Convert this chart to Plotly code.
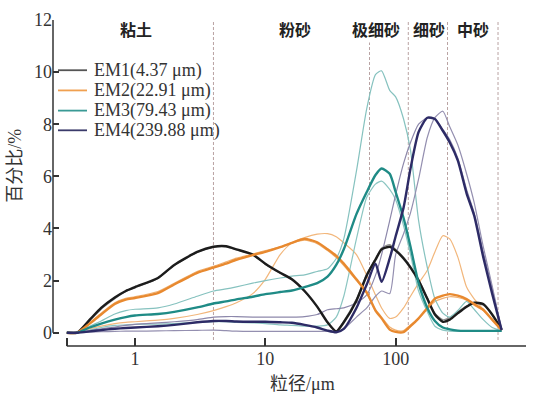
import plotly.graph_objects as go

# ---------------- data ----------------
X_UM = [0.3, 0.36, 0.45, 0.55, 0.7, 0.85, 1, 1.5, 2, 3, 4, 5, 6, 8, 10, 13, 16, 20, 25, 30, 35, 40,
        50, 60, 70, 78, 90, 100, 115, 130, 150, 175, 200, 230, 260, 300, 350, 400, 470, 550, 650]

EM1 = [0, 0, 0.5, 0.95, 1.35, 1.6, 1.75, 2.1, 2.6, 3.1, 3.3, 3.32, 3.2, 3.0, 2.65, 2.3, 2.05, 1.6, 1.0, 0.4, 0.05, 0.4,
       1.23, 2.2, 2.8, 3.2, 3.3, 3.15, 2.85, 2.5, 2.0, 1.3, 0.7, 0.42, 0.5, 0.75, 1.0, 1.15, 1.1, 0.7, 0.12]
EM2 = [0, 0, 0.35, 0.7, 1.1, 1.27, 1.33, 1.52, 1.85, 2.3, 2.5, 2.65, 2.8, 2.98, 3.1, 3.28, 3.45, 3.6, 3.47, 3.2, 2.95, 2.65,
       2.05, 1.55, 0.85, 0.55, 0.12, 0.03, 0.02, 0.25, 0.55, 0.95, 1.3, 1.42, 1.48, 1.42, 1.29, 1.1, 0.88, 0.5, 0.1]
EM3 = [0, 0, 0.2, 0.35, 0.5, 0.6, 0.66, 0.72, 0.8, 0.97, 1.12, 1.2, 1.28, 1.38, 1.48, 1.56, 1.62, 1.75, 1.9, 2.15, 2.6, 3.2,
       4.55, 5.4, 6.05, 6.3, 6.1, 5.4, 4.4, 3.3, 1.9, 0.95, 0.45, 0.2, 0.13, 0.08, 0.07, 0.07, 0.07, 0.07, 0.07]
EM4 = [0, 0, 0.05, 0.1, 0.15, 0.18, 0.2, 0.25, 0.3, 0.4, 0.45, 0.45, 0.43, 0.42, 0.42, 0.4, 0.38, 0.3, 0.2, 0.08, 0.02, 0.15,
       0.95, 1.85, 2.65, 1.95, 2.85, 3.7, 4.8, 6.3, 7.7, 8.25, 8.2, 7.75, 7.3, 6.6, 5.35, 4.5, 2.9, 1.5, 0.1]

# representative samples (thin lines)
S_GRAY = [0, 0, 0.45, 0.9, 1.3, 1.58, 1.72, 2.08, 2.58, 3.08, 3.28, 3.3, 3.18, 2.98, 2.62, 2.28, 2.02, 1.58, 0.98, 0.38, 0.06, 0.45,
          1.3, 2.25, 2.85, 3.25, 3.38, 3.2, 2.9, 2.55, 2.05, 1.35, 0.75, 0.5, 0.58, 0.8, 1.02, 1.12, 1.05, 0.68, 0.12]
S_ORANGE_A = [0, 0, 0.15, 0.25, 0.35, 0.4, 0.42, 0.48, 0.55, 0.7, 0.85, 1.0, 1.15, 1.5, 2.05, 3.0, 3.45, 3.65, 3.78, 3.8, 3.68, 3.45,
              3.0, 2.2, 1.45, 0.95, 0.55, 0.6, 0.95, 1.4, 1.9, 2.4, 3.1, 3.72, 3.6, 2.9, 1.75, 1.3, 0.9, 0.5, 0.1]
S_ORANGE_B = [0, 0, 0.38, 0.75, 1.15, 1.32, 1.38, 1.58, 1.9, 2.35, 2.55, 2.72, 2.86, 3.02, 3.15, 3.3, 3.45, 3.55, 3.42, 3.15, 2.88, 2.58,
              2.0, 1.5, 0.9, 0.6, 0.22, 0.1, 0.08, 0.3, 0.55, 0.9, 1.2, 1.32, 1.38, 1.35, 1.25, 1.05, 0.85, 0.5, 0.1]
S_TEAL_A = [0, 0, 0.25, 0.45, 0.72, 0.85, 0.9, 0.95, 1.1, 1.4, 1.6, 1.68, 1.76, 1.9, 2.0, 2.1, 2.17, 2.22, 2.35, 2.45, 2.85, 3.6,
            6.2, 8.6, 9.9, 10.05, 9.3, 9.05, 8.2, 7.0, 4.3, 2.5, 1.3, 0.75, 0.6, 0.85, 1.2, 0.9, 0.5, 0.2, 0.07]
S_TEAL_B = [0, 0, 0.1, 0.2, 0.28, 0.3, 0.32, 0.33, 0.35, 0.4, 0.42, 0.42, 0.4, 0.38, 0.35, 0.3, 0.28, 0.25, 0.25, 0.3, 0.6, 1.4,
            3.6, 5.2, 5.7, 5.82, 5.5, 5.1, 4.1, 3.0, 1.6, 0.8, 0.25, 0.1, 0.06, 0.05, 0.05, 0.05, 0.05, 0.05, 0.05]
S_PURPLE_A = [0, 0, 0.08, 0.15, 0.22, 0.28, 0.32, 0.38, 0.42, 0.5, 0.6, 0.62, 0.62, 0.6, 0.6, 0.6, 0.6, 0.62, 0.7, 0.88, 0.92, 0.95,
              1.15, 1.45, 2.2, 3.0, 4.3, 5.3, 6.5, 7.3, 8.0, 8.25, 8.2, 7.8, 7.4, 6.7, 5.5, 4.6, 3.1, 1.7, 0.12]
S_PURPLE_B = [0, 0, 0.02, 0.04, 0.05, 0.06, 0.06, 0.07, 0.08, 0.09, 0.1, 0.08, 0.06, 0.05, 0.05, 0.05, 0.05, 0.05, 0.05, 0.05, 0.05, 0.15,
              0.6, 0.95, 1.4, 1.6, 1.5, 3.0, 3.8, 4.6, 5.9, 7.5, 8.25, 8.5, 7.9, 7.2, 6.1, 5.0, 3.3, 1.8, 0.12]

EM_NAMES = ["EM1(4.37 μm)", "EM2(22.91 μm)", "EM3(79.43 μm)", "EM4(239.88 μm)"]
CLASS_LABELS = ["粘土", "粉砂", "极细砂", "细砂", "中砂"]
CLASS_BOUNDS = [4, 63, 125, 250, 610]
X_TICKS = [0.3, 1, 10, 100, 1000]
X_TICK_TEXT = ["", "1", "10", "100", "1 000"]
Y_TICKS = [0, 2, 4, 6, 8, 10, 12]

# ---------------- layout geometry ----------------
W, H = 536, 397
ML, MR, MT, MB = 53, 10, 15, 51
PW, PH = W - ML - MR, H - MT - MB


def pxx(px):
    return (px - ML) / PW


def pxy(py):
    return (H - MB - py) / PH


SERIF = "Liberation Serif"
MIXED = "Liberation Serif, Noto Sans CJK SC"
CJK = "Noto Sans CJK SC"

fig = go.Figure()

thin = [
    (S_GRAY, "#8e8e8e"),
    (S_ORANGE_A, "#f2b77c"),
    (S_ORANGE_B, "#f0b070"),
    (S_TEAL_A, "#86c2bf"),
    (S_TEAL_B, "#8cc6c2"),
    (S_PURPLE_A, "#8d88ab"),
    (S_PURPLE_B, "#948fb0"),
]
for ys, c in thin:
    fig.add_trace(go.Scatter(x=X_UM, y=ys, mode="lines", showlegend=False, hoverinfo="skip",
                             line=dict(color=c, width=1.2, shape="spline", smoothing=0.6)))

thick = [(EM1, "#1c1c1c"), (EM2, "#e8892f"), (EM3, "#1f8b86"), (EM4, "#2d2b66")]
for (ys, c), nm in zip(thick, EM_NAMES):
    fig.add_trace(go.Scatter(x=X_UM, y=ys, mode="lines", name=nm, showlegend=False,
                             line=dict(color=c, width=2.4, shape="spline", smoothing=0.6)))

shapes = []
for b in CLASS_BOUNDS:
    shapes.append(dict(type="line", xref="x", yref="y", x0=b, x1=b, y0=-0.28, y1=12,
                       line=dict(color="#b9a3a3", width=1, dash="3px,2px"), layer="below"))
y0p = 0.51 / 12.51
shapes.append(dict(type="line", xref="paper", yref="paper", x0=0, x1=0, y0=y0p, y1=1,
                   line=dict(color="#333333", width=1.5)))
x0p = (-0.5229 + 0.629) / 3.629
shapes.append(dict(type="line", xref="paper", yref="paper", x0=x0p, x1=1, y0=0, y1=0,
                   line=dict(color="#333333", width=1.5)))

annotations = []
leg_cols = ["#555555", "#f0a050", "#3a9a95", "#3a3a6a"]
leg_y = [66, 86.5, 107, 127]
for nm, c, yy in zip(EM_NAMES, leg_cols, leg_y):
    shapes.append(dict(type="line", xref="paper", yref="paper", x0=pxx(58), x1=pxx(87),
                       y0=pxy(yy), y1=pxy(yy), line=dict(color=c, width=1.8)))
    annotations.append(dict(text=nm, xref="paper", yref="paper", x=pxx(92), y=pxy(yy),
                            xanchor="left", yanchor="middle", showarrow=False,
                            font=dict(family=SERIF, size=18, color="#333333")))

class_px = [136, 295, 376, 429, 473]
for lab, px in zip(CLASS_LABELS, class_px):
    annotations.append(dict(text=lab, xref="paper", yref="paper", x=pxx(px), y=pxy(24),
                            xanchor="center", yanchor="middle", showarrow=False, bgcolor="white",
                            font=dict(family=CJK, size=16, color="#222222", weight="bold")))

annotations.append(dict(text="粒径/μm", xref="paper", yref="paper", x=pxx(302), y=pxy(385),
                        xanchor="center", yanchor="middle", showarrow=False,
                        font=dict(family=MIXED, size=18, color="#333333")))
annotations.append(dict(text="百分比/%", xref="paper", yref="paper", x=pxx(15), y=pxy(163),
                        xanchor="center", yanchor="middle", showarrow=False, textangle=-90,
                        font=dict(family=MIXED, size=18, color="#333333")))

fig.update_layout(
    width=W, height=H,
    margin=dict(l=ML, r=MR, t=MT, b=MB, pad=0),
    paper_bgcolor="white", plot_bgcolor="white",
    showlegend=False,
    shapes=shapes, annotations=annotations,
    xaxis=dict(type="log", range=[-0.629, 3.0], showgrid=False, zeroline=False, showline=False,
               tickvals=X_TICKS, ticktext=X_TICK_TEXT, ticks="inside", ticklen=8, tickwidth=1.5,
               tickcolor="#333333", tickfont=dict(family=SERIF, size=18, color="#333333")),
    yaxis=dict(range=[-0.51, 12], showgrid=False, zeroline=False, showline=False,
               tickvals=Y_TICKS, ticks="inside", ticklen=6, tickwidth=1.5,
               tickcolor="#333333", tickfont=dict(family=SERIF, size=18, color="#333333")),
)

fig.write_html("out.html")
